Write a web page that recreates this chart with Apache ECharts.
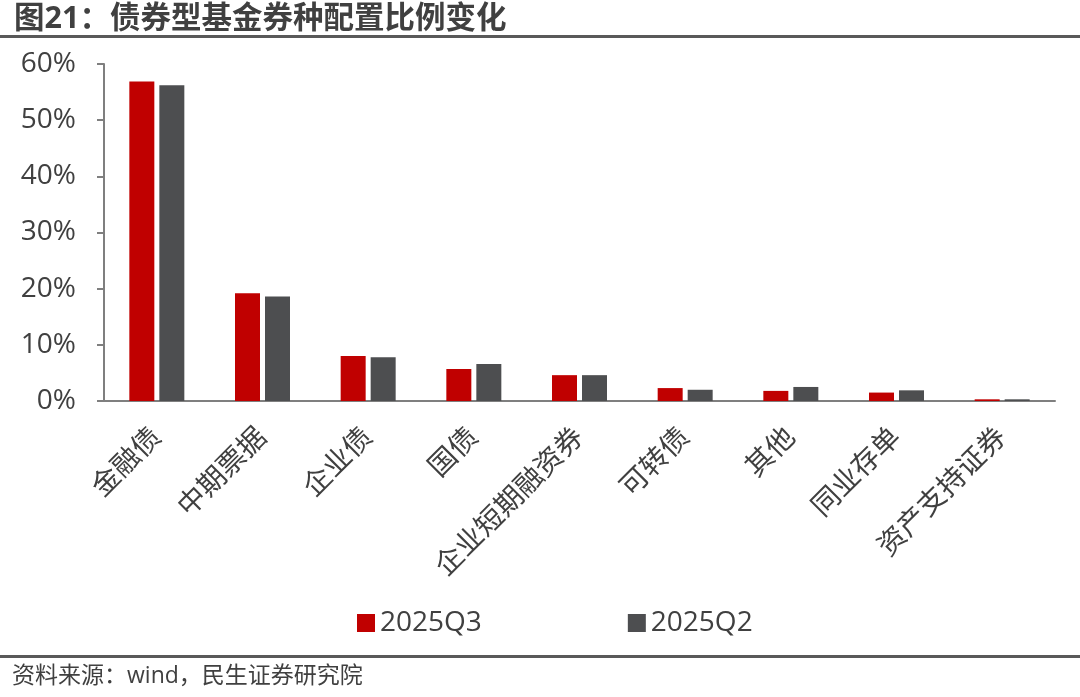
<!DOCTYPE html>
<html><head><meta charset="utf-8">
<script src="https://cdn.jsdelivr.net/npm/echarts@6/dist/echarts.min.js"></script>
<style>html,body{margin:0;padding:0;background:#fff}#c{width:1080px;height:697px}</style>
</head><body><div id="c"></div>
<script>
const categories = ['金融债','中期票据','企业债','国债','企业短期融资券','可转债','其他','同业存单','资产支持证券'];
const q3 = [56.9, 19.2, 8.0, 5.7, 4.6, 2.3, 1.8, 1.5, 0.3];
const q2 = [56.2, 18.6, 7.8, 6.6, 4.6, 2.0, 2.5, 1.9, 0.3];
const yTicks = {min: 0, max: 60, interval: 10};
const font = '"Open Sans","Noto Sans CJK SC",sans-serif';
const chart = echarts.init(document.getElementById('c'));
chart.setOption({
  animation: false,
  textStyle: {fontFamily: font},
  title: {text: '图21：债券型基金券种配置比例变化', left: 9, top: -1,
    textStyle: {fontSize: 30.5, fontWeight: 'bold', color: '#404040', fontFamily: font}},
  graphic: [
    {type: 'rect', shape: {x: 0, y: 35, width: 1080, height: 3}, style: {fill: '#595959'}},
    {type: 'rect', shape: {x: 0, y: 655, width: 1080, height: 3}, style: {fill: '#595959'}},
    {type: 'text', left: 12, top: 665, style: {text: '资料来源：wind，民生证券研究院', fontSize: 23, fill: '#404040', fontFamily: font}}
  ],
  legend: {left: 352, top: 604, itemWidth: 18, itemHeight: 18, itemGap: 146,
    icon: 'rect', textStyle: {fontSize: 28, color: '#404040', fontFamily: font},
    data: ['2025Q3','2025Q2']},
  grid: {left: 104, right: 25, top: 64, bottom: 296, containLabel: false},
  xAxis: {type: 'category', data: categories,
    axisLine: {lineStyle: {color: '#7f7f7f', width: 2}},
    axisTick: {show: false},
    axisLabel: {rotate: 45, fontSize: 28, color: '#404040', margin: 32, interval: 0}},
  yAxis: {type: 'value', min: yTicks.min, max: yTicks.max, interval: yTicks.interval,
    axisLine: {show: true, lineStyle: {color: '#7f7f7f', width: 2}},
    axisTick: {show: true, length: 7, lineStyle: {color: '#7f7f7f', width: 2}},
    splitLine: {show: false},
    axisLabel: {formatter: '{value}%', fontSize: 28, color: '#404040', margin: 28}},
  series: [
    {name: '2025Q3', type: 'bar', data: q3, barWidth: 25, barGap: '20%', itemStyle: {color: '#C00000'}},
    {name: '2025Q2', type: 'bar', data: q2, barWidth: 25, itemStyle: {color: '#4D4E50'}}
  ]
});
</script></body></html>
